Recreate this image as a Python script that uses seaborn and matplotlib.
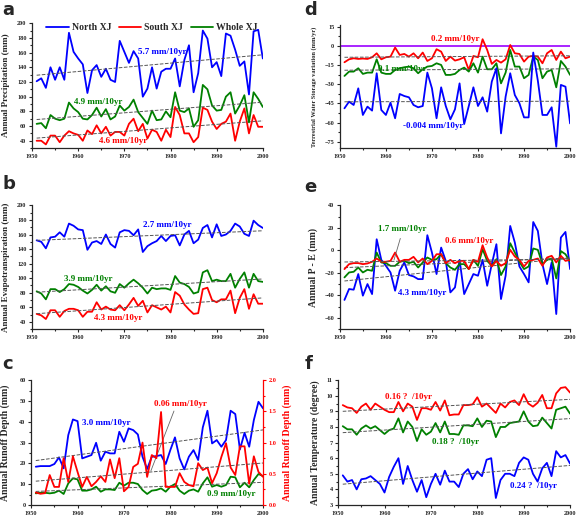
import numpy as np
import matplotlib.pyplot as plt
from matplotlib.ticker import AutoMinorLocator, MultipleLocator
import seaborn as sns

sns.set_style('ticks')
plt.rcParams['font.family'] = ['Liberation Serif', 'DejaVu Sans']
plt.rcParams['font.weight'] = 'bold'
plt.rcParams['axes.labelweight'] = 'bold'

years = np.arange(1951, 2001)

# a: precipitation (mm)
pre_north = [121, 125, 112, 140, 123, 140, 123, 187, 161, 152, 144, 105, 136, 143, 127, 138, 123, 120, 176, 161,
             146, 162, 152, 100, 111, 140, 111, 134, 138, 138, 152, 114, 150, 170, 106, 132, 190, 179, 140, 147,
             128, 186, 183, 164, 142, 148, 103, 189, 191, 152]
pre_south = [40, 40, 35, 47, 47, 38, 47, 53, 50, 48, 40, 54, 49, 61, 50, 59, 47, 52, 52, 47,
             63, 70, 53, 63, 43, 55, 52, 40, 55, 45, 86, 75, 50, 50, 38, 45, 85, 82, 66, 56,
             63, 66, 77, 40, 66, 84, 50, 75, 59, 59]
pre_whole = [63, 64, 57, 75, 70, 68, 70, 92, 84, 79, 70, 69, 75, 85, 73, 83, 69, 73, 88, 81,
             86, 96, 79, 71, 63, 81, 68, 69, 80, 72, 106, 81, 79, 84, 59, 68, 116, 110, 88, 81,
             82, 100, 106, 77, 88, 102, 65, 106, 97, 86]

# b: evapotranspiration (mm)
et_north = [152, 150, 141, 156, 157, 163, 157, 175, 172, 167, 166, 139, 149, 151, 147, 160, 147, 142, 163, 166,
            165, 159, 167, 136, 144, 148, 151, 158, 151, 158, 159, 145, 160, 165, 148, 153, 169, 173, 156, 174,
            158, 160, 165, 175, 171, 161, 158, 179, 173, 169]
et_south = [51, 49, 44, 56, 56, 47, 55, 58, 58, 56, 47, 54, 54, 67, 57, 61, 57, 56, 63, 56,
            64, 73, 62, 69, 53, 63, 60, 57, 61, 53, 81, 76, 64, 57, 51, 52, 85, 87, 70, 67,
            71, 71, 83, 52, 73, 85, 58, 78, 65, 65]
et_whole = [82, 79, 71, 85, 85, 81, 85, 92, 91, 88, 83, 79, 84, 91, 83, 89, 82, 80, 92, 87,
            93, 98, 93, 87, 79, 87, 85, 86, 86, 84, 103, 94, 92, 88, 79, 81, 108, 111, 96, 98,
            96, 96, 106, 87, 99, 108, 87, 106, 96, 95]

# c: runoff depth (mm), south on the right axis
ro_north = [18.4, 18.7, 18.7, 18.7, 19.7, 22.9, 17.6, 33.6, 41.1, 40.3, 22.4, 23.2, 24.0, 29.9, 21.3, 25.6, 24.8,
            24.8, 35.2, 30.4, 36.8, 36.0, 33.9, 23.2, 17.3, 23.2, 23.5, 24.0, 19.7, 26.4, 32.5, 22.4, 17.1, 23.2,
            26.4, 21.6, 37.3, 45.3, 29.6, 31.2, 28.0, 31.2, 45.3, 43.7, 26.7, 34.7, 28.0, 40.8, 49.6, 46.4]
ro_whole = [5.6, 5.9, 5.9, 5.6, 5.9, 6.9, 5.3, 10.4, 12.8, 12.3, 6.9, 6.9, 7.5, 8.8, 6.4, 7.5, 7.5, 7.2, 10.7, 9.3,
            10.7, 10.7, 10.1, 7.2, 5.3, 6.9, 7.2, 8.0, 6.4, 8.8, 10.1, 6.9, 5.3, 6.9, 7.5, 6.4, 10.4, 13.3, 8.8, 9.6,
            8.8, 9.6, 13.6, 13.3, 8.5, 10.7, 8.5, 12.0, 14.9, 13.9]
ro_south = [0.20, 0.18, 0.19, 0.48, 0.29, 0.29, 0.75, 0.37, 0.78, 0.53, 0.29, 0.45, 0.30, 0.37, 0.46, 0.37, 0.73,
            0.43, 0.75, 0.22, 0.29, 0.61, 0.66, 1.00, 0.45, 0.80, 0.75, 1.49, 0.29, 0.29, 0.29, 0.51, 0.37, 0.32,
            0.30, 0.67, 0.56, 0.60, 0.35, 0.51, 0.77, 0.99, 0.60, 0.48, 0.94, 0.94, 0.34, 0.78, 0.53, 0.45]

# d: terrestrial water storage variation (mm/yr)
tws_north = [-48.9, -43.7, -46.3, -33.3, -54.1, -47.6, -50.7, -21.5, -50.2, -54.1, -44.5, -56.7, -37.7, -39.3,
             -40.3, -46.3, -48.1, -47.1, -21.0, -33.3, -56.7, -32.5, -47.1, -57.5, -49.7, -29.4, -61.2, -47.1,
             -32.5, -47.1, -40.3, -51.5, -28.0, -17.6, -68.5, -39.8, -21.5, -38.5, -45.0, -56.0, -56.0, -5.3,
             -27.3, -54.1, -54.1, -48.1, -78.9, -30.6, -32.0, -60.7]
tws_south = [-12.9, -10.6, -9.8, -10.3, -10.0, -10.3, -9.0, -5.9, -10.6, -9.0, -8.5, -1.4, -7.2, -6.4, -8.5, -5.9,
             -9.8, -5.3, -11.9, -9.8, -2.7, -4.6, -11.9, -8.5, -11.6, -10.6, -9.0, -18.9, -8.0, -9.0, 5.1, -3.3,
             -14.2, -11.1, -13.2, -10.6, 0.6, -5.9, -6.4, -12.4, -8.5, -8.0, -8.5, -13.7, -5.9, -3.3, -11.1, -4.6,
             -9.8, -8.5]
tws_whole = [-23.6, -20.2, -20.2, -17.6, -22.0, -21.0, -21.0, -10.6, -21.0, -22.0, -22.0, -18.9, -17.6, -16.8,
             -16.3, -17.6, -21.5, -18.4, -16.3, -15.8, -13.7, -15.0, -22.8, -22.8, -22.0, -18.9, -17.1, -20.2,
             -13.7, -21.0, -8.5, -18.4, -18.4, -13.7, -29.4, -21.0, -3.3, -16.3, -16.3, -25.4, -22.8, -8.5, -11.1,
             -25.4, -20.2, -18.9, -32.5, -11.9, -16.3, -22.8]

# e: P - E (mm)
pe_north = [-44, -34.3, -34.9, -21, -40.2, -29.9, -38.8, 9.9, -8.4, -13.7, -19.6, -35.8, -18.1, -10.7, -21.9, -23.1,
            -25.5, -25.5, 13.5, -1.9, -21, 2.5, -9.3, -37.3, -32.9, -8.4, -38.8, -29.9, -21, -22.5, -8.4, -31.4,
            -12.2, 5.5, -43.2, -22.5, 21.7, 7, -14.3, -21, -28.4, 25.2, 17.3, -12.2, -29.9, -10.7, -56.5, 11.4,
            16.4, -16.6]
pe_south = [-16.6, -12.2, -11.3, -11.3, -12.2, -11.6, -10.1, -7.2, -10.1, -10.1, -9.3, -1.9, -10.1, -8.4, -8.4,
            -5.7, -10.7, -7.2, -12.2, -9.3, -3.4, -3.4, -11.3, -8.4, -11.3, -9.3, -9.3, -16.6, -8.4, -10.1, 4.6,
            -6.3, -14.3, -9.3, -13.7, -11.3, 0.5, -5.4, -8.4, -14.3, -9.3, -8.4, -7.2, -13.7, -6.3, -4.8, -10.7,
            -4.8, -9.3, -8.4]
pe_whole = [-24, -19.6, -19, -15.2, -19.6, -17.2, -18.1, -1.9, -10.7, -11.3, -13.7, -13.7, -10.1, -9.3, -11.3,
            -10.1, -15.2, -10.7, -6.3, -8.4, -7.8, -3.4, -11.3, -15.2, -17.2, -12.2, -12.2, -16.6, -8.4, -13.7,
            1.1, -9.3, -13.7, -7.8, -21.9, -14.3, 6.4, -1.9, -10.1, -16.6, -14.3, 1.7, 0.5, -12.2, -8.4, -7.2,
            -24.9, -0.6, -3.4, -10.1]

# f: temperature (degree)
tmp_north = [4.9, 4.5, 4.6, 4.0, 4.65, 4.7, 4.85, 4.6, 4.35, 3.8, 4.8, 5.45, 6.0, 4.35, 5.5, 4.6, 3.85, 4.6, 3.5,
             4.35, 5.0, 4.3, 5.2, 4.5, 4.5, 4.15, 5.0, 5.3, 4.65, 5.15, 4.85, 5.9, 6.0, 3.45, 4.6, 5.0, 5.0, 4.85,
             5.7, 6.05, 5.9, 5.0, 4.5, 5.35, 5.7, 4.85, 6.45, 6.05, 6.2, 5.65]
tmp_south = [9.4, 9.25, 9.2, 8.9, 9.3, 9.5, 9.1, 9.5, 9.3, 9.1, 8.95, 8.95, 9.6, 9.0, 9.5, 9.3, 8.45, 9.2, 9.2, 9.1,
             9.6, 9.05, 9.7, 8.75, 8.8, 8.8, 9.4, 9.4, 9.45, 9.9, 9.3, 9.5, 9.2, 8.9, 9.5, 9.25, 9.6, 9.7, 9.4, 10.1,
             9.5, 9.3, 9.55, 10.05, 9.2, 9.2, 10.15, 10.5, 10.55, 10.2]
tmp_whole = [8.05, 7.85, 7.85, 7.5, 7.9, 8.1, 7.9, 8.05, 7.8, 7.55, 7.8, 7.9, 8.55, 7.65, 8.35, 8.0, 7.1, 7.85, 7.5,
             7.7, 8.25, 7.65, 8.35, 7.55, 7.55, 7.5, 8.1, 8.1, 8.05, 8.55, 8.0, 8.4, 8.35, 7.35, 8.0, 8.0, 8.25, 8.3,
             8.35, 9.0, 8.35, 8.05, 8.1, 8.6, 8.25, 7.9, 9.1, 9.2, 9.3, 8.85]

BLUE, RED, GREEN = '#0000ff', '#ff0000', '#008000'
TS = 6.5   # annotation size

fig = plt.figure(figsize=(5.77, 5.16), dpi=100)


def style(ax, ylim, ystep, label, lx=-0.105, lsize=7):
    ax.set_xlim(1950, 2000)
    ax.set_ylim(*ylim)
    ax.xaxis.set_major_locator(MultipleLocator(10))
    ax.yaxis.set_major_locator(MultipleLocator(ystep))
    ax.xaxis.set_minor_locator(AutoMinorLocator(2))
    ax.yaxis.set_minor_locator(AutoMinorLocator(2))
    ax.tick_params(which='both', direction='out', labelsize=4.5, width=0.8, pad=1.5)
    ax.tick_params(which='major', length=2.5)
    ax.tick_params(which='minor', length=1.5)
    for s in ['left', 'bottom']:
        ax.spines[s].set_linewidth(0.9)
    sns.despine(ax=ax)
    ax.set_xlabel('')
    ax.set_ylabel(label, fontsize=lsize)
    ax.yaxis.set_label_coords(lx, 0.5)


def series(ax, vals, color, name=None):
    sns.lineplot(x=years, y=vals, ax=ax, color=color, lw=1.3, label=name, legend=False)
    sns.regplot(x=years, y=vals, ax=ax, scatter=False, ci=None,
                line_kws=dict(ls='--', color='#555555', lw=0.7))


# panel a
ax = fig.add_axes([0.0555, 0.713, 0.400, 0.242])
series(ax, pre_north, BLUE, 'North XJ')
series(ax, pre_south, RED, 'South XJ')
series(ax, pre_whole, GREEN, 'Whole XJ')
style(ax, (30, 200), 20, 'Annual Precipitation (mm)', lx=-0.095, lsize=6.5)
ax.legend(loc='upper center', ncol=3, frameon=False, fontsize=7, handlelength=2.3,
          columnspacing=0.8, handletextpad=0.3, borderaxespad=0.0, bbox_to_anchor=(0.52, 1.03))
ax.text(1973, 161, '5.7 mm/10yr', color=BLUE, fontsize=TS, va='center')
ax.text(1959, 93, '4.9 mm/10yr', color=GREEN, fontsize=TS, va='center')
ax.text(1964.6, 39, '4.6 mm/10yr', color=RED, fontsize=TS, va='center')

# panel b
ax = fig.add_axes([0.0555, 0.362, 0.400, 0.240])
series(ax, et_north, BLUE)
series(ax, et_south, RED)
series(ax, et_whole, GREEN)
style(ax, (30, 200), 20, 'Annual Evapotranspiration (mm)', lx=-0.095, lsize=6.5)
ax.text(1974, 172.6, '2.7 mm/10yr', color=BLUE, fontsize=TS, va='center')
ax.text(1957, 98.5, '3.9 mm/10yr', color=GREEN, fontsize=TS, va='center')
ax.text(1963.5, 46, '4.3 mm/10yr', color=RED, fontsize=TS, va='center')

# panel c
ax = fig.add_axes([0.054, 0.0213, 0.402, 0.242])
series(ax, ro_north, BLUE)
series(ax, ro_whole, GREEN)
style(ax, (0, 60), 10, 'Annual Runoff Depth (mm)', lx=-0.092)
ax2 = ax.twinx()
series(ax2, ro_south, RED)
ax2.set_xlim(1950, 2000)
ax2.set_ylim(0, 2.0)
ax2.yaxis.set_major_locator(MultipleLocator(0.5))
ax2.yaxis.set_minor_locator(AutoMinorLocator(2))
ax2.yaxis.set_major_formatter(plt.FormatStrFormatter('%.1f'))
ax2.tick_params(which='both', direction='out', labelsize=4.5, width=0.8, pad=1.5,
                color=RED, labelcolor=RED)
ax2.tick_params(which='major', length=2.5)
ax2.tick_params(which='minor', length=1.5)
for s in ['top', 'left', 'bottom']:
    ax2.spines[s].set_visible(False)
ax2.spines['right'].set_color(RED)
ax2.spines['right'].set_linewidth(0.9)
ax2.set_xlabel('')
ax2.set_ylabel('Annual Runoff Depth (mm)', fontsize=7, color=RED)
ax2.yaxis.set_label_coords(1.082, 0.5)
ax.text(1961, 39.5, '3.0 mm/10yr', color=BLUE, fontsize=TS, va='center')
ax.text(1976.5, 48.5, '0.06 mm/10yr', color=RED, fontsize=TS, va='center')
ax.text(1988, 5.3, '0.9 mm/10yr', color=GREEN, fontsize=TS, va='center')
ax.annotate('', xy=(1975.6, 15.2), xytext=(1981, 46.4),
            arrowprops=dict(arrowstyle='-', color='#666666', lw=0.6))

# panel d
ax = fig.add_axes([0.589, 0.713, 0.399, 0.238])
ax.axhline(0, color='#9900ff', lw=1.2)
series(ax, tws_south, RED)
series(ax, tws_whole, GREEN)
series(ax, tws_north, BLUE)
style(ax, (-80, 16), 15, 'Terrestrial Water Storage variation (mm/yr)', lx=-0.10, lsize=4.6)
ax.text(1969.8, 5.1, '0.2 mm/10yr', color=RED, fontsize=TS, va='center')
ax.text(1958.3, -18.4, '0.1 mm/10yr', color=GREEN, fontsize=TS, va='center')
ax.text(1963.8, -62.7, '-0.004 mm/10yr', color=BLUE, fontsize=TS, va='center')

# panel e
ax = fig.add_axes([0.589, 0.362, 0.399, 0.240])
series(ax, pe_north, BLUE)
series(ax, pe_whole, GREEN)
series(ax, pe_south, RED)
style(ax, (-70, 40), 20, 'Annual P - E (mm)', lx=-0.096)
ax.text(1958.2, 19.4, '1.7 mm/10yr', color=GREEN, fontsize=TS, va='center')
ax.text(1972.8, 8.4, '0.6 mm/10yr', color=RED, fontsize=TS, va='center')
ax.text(1962.7, -37.9, '4.3 mm/10yr', color=BLUE, fontsize=TS, va='center')
ax.annotate('', xy=(1961.6, -10.7), xytext=(1963.3, 13),
            arrowprops=dict(arrowstyle='-', color='#666666', lw=0.6))

# panel f
ax = fig.add_axes([0.586, 0.0213, 0.402, 0.242])
series(ax, tmp_south, RED)
series(ax, tmp_whole, GREEN)
series(ax, tmp_north, BLUE)
style(ax, (3, 11), 1, 'Annual Temperature (degree)', lx=-0.08)
ax.text(1960, 9.93, '0.16 ?  /10yr', color=RED, fontsize=TS, va='center')
ax.text(1970.2, 7.06, '0.18 ?  /10yr', color=GREEN, fontsize=TS, va='center')
ax.text(1987, 4.2, '0.24 ?  /10yr', color=BLUE, fontsize=TS, va='center')

# panel letters
for lab, x, y in [('a', 0.004, 0.998), ('b', 0.004, 0.660), ('c', 0.004, 0.312),
                  ('d', 0.528, 0.998), ('e', 0.528, 0.656), ('f', 0.528, 0.312)]:
    fig.text(x, y, lab, fontsize=13, fontweight='bold', family='DejaVu Sans', va='top', ha='left')

fig.savefig('out.png', dpi=100)
